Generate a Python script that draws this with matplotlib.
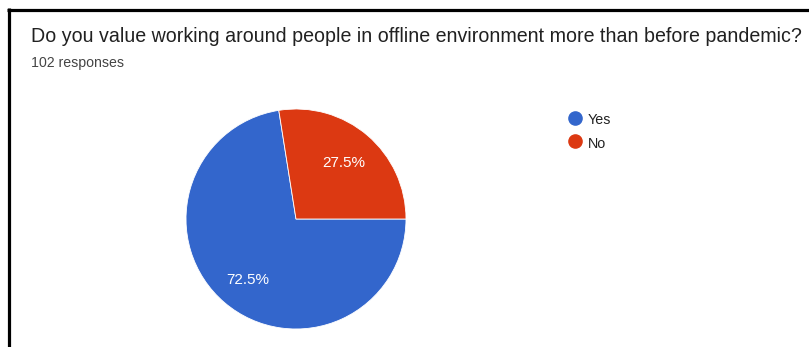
import matplotlib.pyplot as plt
from matplotlib.lines import Line2D

title = "Do you value working around people in offline environment more than before pandemic?"
subtitle = "102 responses"
labels = ["Yes", "No"]
values = [72.5, 27.5]
colors = ["#3366CC", "#DC3912"]

W, H = 809, 347
fig = plt.figure(figsize=(W / 100, H / 100), dpi=100)
fig.patch.set_facecolor("white")
plt.rcParams["font.family"] = ["Liberation Sans", "DejaVu Sans"]

# frame lines along the top and left edges
fig.add_artist(Line2D([7 / W, 1], [1 - 9.5 / H, 1 - 9.5 / H], transform=fig.transFigure,
                      color="black", lw=2.3, solid_capstyle="butt"))
fig.add_artist(Line2D([8.5 / W, 8.5 / W], [0, 1 - 8 / H], transform=fig.transFigure,
                      color="black", lw=2.3, solid_capstyle="butt"))

fig.text(31 / W, 1 - 37 / H, title, fontsize=14.1, color="#212121", va="center", ha="left")
fig.text(31 / W, 1 - 63 / H, subtitle, fontsize=10.2, color="#444444", va="center", ha="left")

# pie
cx, cy, r = 296, 219, 110
ax = fig.add_axes([(cx - r) / W, (H - cy - r) / H, 2 * r / W, 2 * r / H])
wedges, _, autotexts = ax.pie(values, colors=colors, startangle=0, counterclock=False,
                              autopct="%.1f%%", pctdistance=0.68,
                              wedgeprops=dict(edgecolor="white", linewidth=0.6),
                              textprops=dict(color="white", fontsize=11))
autotexts[1].set_position((0.43, 0.51))
autotexts[0].set_position((-0.44, -0.55))
ax.set_xlim(-1, 1)
ax.set_ylim(-1, 1)
ax.set_aspect("equal")
ax.axis("off")

# legend
for i, (lab, col) in enumerate(zip(labels, colors)):
    y = 117.5 + 24 * i
    fig.add_artist(Line2D([574.5 / W], [1 - y / H], marker="o", markersize=9.5,
                          color=col, transform=fig.transFigure))
    fig.text(588 / W, 1 - (y + 0.5) / H, lab, fontsize=10.3, color="#222222",
             va="center_baseline", ha="left")

fig.savefig("out.png", dpi=100)
